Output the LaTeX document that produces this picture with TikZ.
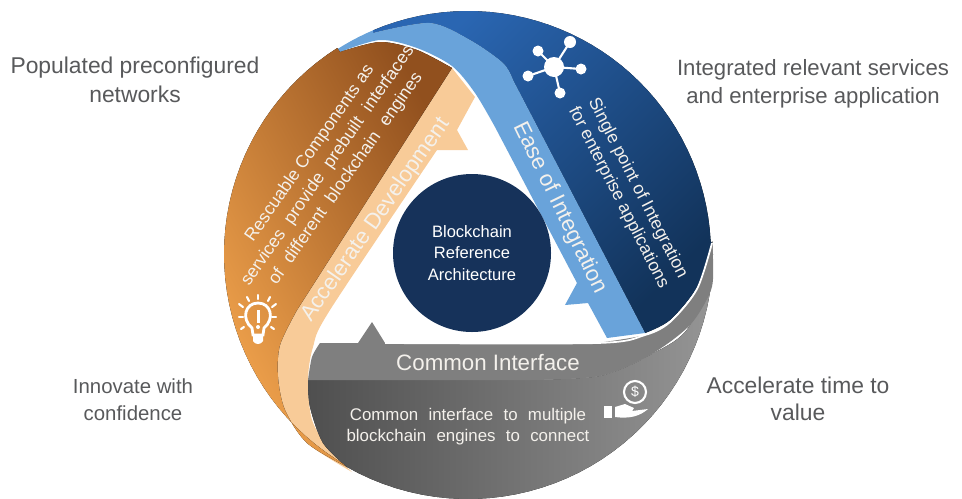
\documentclass[tikz,border=0pt]{standalone}
\usepackage{fontspec}
\setmainfont{Liberation Sans}
\newfontfamily\widewords[WordSpace=2.2]{Liberation Sans}
\definecolor{sidegrey}{HTML}{58595B}
\definecolor{orangelight}{HTML}{F0A24C}
\definecolor{orangedark}{HTML}{91501E}
\definecolor{creamstrip}{HTML}{F8CB98}
\definecolor{bluelight}{HTML}{2A66B2}
\definecolor{bluedark}{HTML}{12335A}
\definecolor{bluestrip}{HTML}{69A3DA}
\definecolor{greyband}{HTML}{7F7F7F}
\definecolor{greydark}{HTML}{4F4F4F}
\definecolor{greylight}{HTML}{959595}
\definecolor{hubblue}{HTML}{16325A}
\definecolor{labelwhite}{HTML}{F4F1EC}
\begin{document}
\begin{tikzpicture} [x=0.02cm, y=-0.02cm,
		sidelabel/.style={text=sidegrey, align=center, font=\fontsize{12.6}{16.2}\selectfont},
		ringlabel/.style={text=labelwhite, align=center, font=\fontsize{10}{12.5}\selectfont},
		striplabel/.style={text=labelwhite, font=\fontsize{12.7}{15}\selectfont},
		icon/.style={draw=white, line width=1.2pt, line cap=round}]
		\useasboundingbox (0,0) rectangle (962,498);

		% blue segment
		\fill [left color=bluelight, right color=bluedark, shading angle=45]
			plot [domain=-113:-3, samples=40] ({468+243*cos(\x)},{254+243*sin(\x)})
			-- plot [smooth] coordinates {(712,243) (697,287) (670,320) (645,333)}
			-- (513,80)
			-- plot [smooth] coordinates {(513,80) (503,63) (470,40) (430,23) (373,33)} -- cycle;
		\fill [bluestrip]
			plot [domain=-122.4:-113, samples=6] ({468+243*cos(\x)},{254+243*sin(\x)})
			-- plot [smooth] coordinates {(373,33) (430,23) (470,40) (503,63) (513,80)}
			-- (645,333) -- (607,338) -- (588,303) -- (565,305) -- (577,283) -- (495,127)
			-- plot [smooth] coordinates {(495,127) (475,93) (452,66) (417,48) (380,40) (340,52)} -- cycle;

		% orange segment
		\fill [creamstrip] (452,68) -- (475,97) -- (457,130) -- (468,150) -- (437,150)
			-- plot [smooth] coordinates {(437,150) (330,310) (313,347) (308,380) (312,420) (330,450) (352,472)}
			-- plot [smooth] coordinates {(352,472) (307,443) (285,410) (278,377) (280,345) (297,310)} -- cycle;
		\fill [left color=orangelight, right color=orangedark, shading angle=118]
			plot [domain=237.6:119.6, samples=40] ({468+244*cos(\x)},{254+244*sin(\x)})
			-- plot [smooth] coordinates {(347,467) (307,443) (285,410) (278,377) (280,345) (297,310)}
			-- (452,68)
			-- plot [smooth] coordinates {(452,68) (417,50) (380,42) (340,52)} -- cycle;

		% grey segment
		\fill [left color=greydark, right color=greylight]
			plot [domain=-3:119.6, samples=40] ({468+245*cos(\x)},{254+245*sin(\x)})
			-- plot [smooth] coordinates {(347,467) (323,443) (310,407) (308,380)}
			-- (530,380)
			-- plot [smooth] coordinates {(530,380) (600,376) (650,355) (690,325) (712,243)} -- cycle;
		\fill [greyband] plot [smooth] coordinates {(308,380) (312,357) (320,343)}
			-- (358,343) -- (372,322) -- (385,343) -- (597,343)
			-- plot [smooth] coordinates {(597,343) (645,335) (670,322) (697,289) (712,243)}
			-- plot [smooth] coordinates {(712,243) (713,262) (711,290) (690,325) (650,355) (600,376) (530,380)} -- cycle;
		\draw [white, line width=1pt] plot [smooth] coordinates {(385,343) (597,343) (645,335) (670,322) (697,289) (712,243)};

		% centre
		\fill [hubblue] (472,253) circle [radius=79];
		\node (centre) [text=white, align=center, font=\fontsize{9.4}{12.2}\selectfont] at (472,253) {Blockchain\\Reference\\Architecture};

		\node (populated) [sidelabel, font=\fontsize{13}{16.4}\selectfont] at (135,80) {Populated preconfigured\\networks};
		\node (integrated) [sidelabel] at (813,84) {Integrated relevant services\\and enterprise application};
		\node (innovate) [sidelabel, font=\fontsize{11.6}{15.5}\selectfont] at (133,400) {Innovate with\\confidence};
		\node (accelerate) [sidelabel, font=\fontsize{13}{15.5}\selectfont] at (798,399) {Accelerate time to\\value};

		\node (rescuable) [ringlabel, rotate=55] at (328,166) {Rescuable Components as\\{\widewords services provide prebuilt interfaces}\\{\widewords of different blockchain engines}};
		\node (development) [striplabel, rotate=55] at (376,220) {Accelerate Development};
		\node (ease) [striplabel, rotate=-64] at (560,208) {Ease of Integration};
		\node (single) [ringlabel, rotate=-63, font=\fontsize{10}{12.2}\selectfont] at (628,193) {Single point of Integration\\for enterprise applications};
		\node (common) [striplabel] at (488,363) {Common Interface};
		\node (connect) [ringlabel, font=\fontsize{9.6}{12}\selectfont] at (468,427) {{\widewords Common interface to multiple}\\{\widewords blockchain engines to connect}};

		% hub icon
		\fill [white] (554,67) circle [radius=10];
		\fill [white] (570,42) circle [radius=6];
		\fill [white] (538,51) circle [radius=5.5];
		\fill [white] (528,76) circle [radius=5.5];
		\fill [white] (581,69) circle [radius=5.5];
		\fill [white] (560,93) circle [radius=5.5];
		\draw [icon] (554,67) -- (570,42);
		\draw [icon] (554,67) -- (538,51);
		\draw [icon] (554,67) -- (528,76);
		\draw [icon] (554,67) -- (581,69);
		\draw [icon] (554,67) -- (560,93);

		% bulb icon
		\draw [icon, line width=1.6pt] (253,335) -- (252,328) .. controls (241,319) and (245,303) .. (258,303) .. controls (271,303) and (275,319) .. (264,328) -- (263,335) -- cycle;
		\fill [white] (253,336) -- (263,336) -- (263,341) .. controls (261,345) and (255,345) .. (253,341) -- cycle;
		\fill [white] (256.5,310) rectangle (259.5,323);
		\fill [white] (258,327) circle [radius=2];
		\draw [icon] (258,295) -- (258,299);
		\draw [icon] (247,297) -- (249,301);
		\draw [icon] (270,297) -- (268,301);
		\draw [icon] (239,304) -- (243,307);
		\draw [icon] (276,304) -- (272,307);
		\draw [icon] (239,317) -- (243,317);
		\draw [icon] (272,317) -- (276,317);
		\draw [icon] (241,329) -- (244,327);
		\draw [icon] (274,329) -- (271,327);

		% money icon
		\draw [icon] (635,392) circle [radius=11];
		\node (dollar) [text=white, font=\fontsize{8}{8}\selectfont] at (635,392) {\$};
		\fill [white] (604,406) rectangle (612,418);
		\fill [white] (615,407) -- (625,404) -- (634,408) -- (632,411) -- (648,409) .. controls (640,416) and (630,419) .. (615,417) -- cycle;
\end{tikzpicture}
\end{document}
